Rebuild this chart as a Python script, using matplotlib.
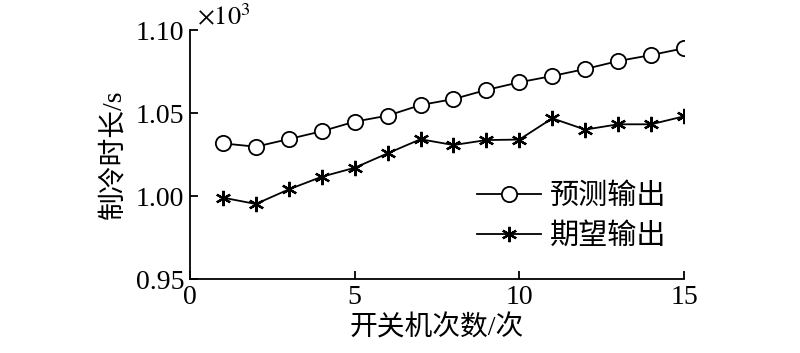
import matplotlib
matplotlib.use('Agg')
import matplotlib.pyplot as plt

# 数据（单位：×10^3 s）
x_axis = list(range(1, 16))
pred_out = [1.0317, 1.0297, 1.0343, 1.0390, 1.0448, 1.0484, 1.0548, 1.0584,
            1.0639, 1.0685, 1.0723, 1.0765, 1.0813, 1.0849, 1.0890]
expect_out = [0.9990, 0.9952, 1.0040, 1.0116, 1.0170, 1.0257, 1.0342, 1.0307,
              1.0337, 1.0340, 1.0468, 1.0400, 1.0432, 1.0432, 1.0480]
x_ticks = [0, 5, 10, 15]
y_ticks = [0.95, 1.00, 1.05, 1.10]
y_tick_labels = ['0.95', '1.00', '1.05', '1.10']

plt.rcParams['font.family'] = ['Liberation Serif', 'Noto Sans CJK SC']
plt.rcParams['mathtext.fontset'] = 'stix'

fig = plt.figure(figsize=(8, 3.53), dpi=100)
ax = fig.add_axes([0.2375, 0.2096, 0.6175, 0.7054])

ax.plot(x_axis, pred_out, color='black', lw=1.3, marker='o', ms=11,
        mfc='white', mec='black', mew=1.3, label='预测输出')
ax.plot(x_axis, expect_out, color='black', lw=1.3, marker=(6, 2, 0), ms=11,
        mew=1.6, label='期望输出')

ax.set_xlim(0, 15)
ax.set_ylim(0.95, 1.10)
ax.set_xticks(x_ticks)
ax.set_yticks(y_ticks)
ax.set_yticklabels(y_tick_labels)

ax.spines['top'].set_visible(False)
ax.spines['right'].set_visible(False)
for s in ['left', 'bottom']:
    ax.spines[s].set_linewidth(1.3)
ax.tick_params(axis='both', direction='in', length=6, width=1.3,
               labelsize=20, pad=4)

ax.set_xlabel('开关机次数/次', fontsize=20, labelpad=4)
ax.set_ylabel('制冷时长/s', fontsize=20, labelpad=6)

ax.text(0.015, 1.0, r'$\times10^3$', transform=ax.transAxes,
        fontsize=19, ha='left', va='bottom')

ax.legend(loc='upper left', bbox_to_anchor=(0.58, 0.385), frameon=False,
          fontsize=21, handlelength=2.2, handletextpad=0.3, labelspacing=0.45,
          borderpad=0.0, borderaxespad=0.0)

plt.savefig('out.png', dpi=100)
